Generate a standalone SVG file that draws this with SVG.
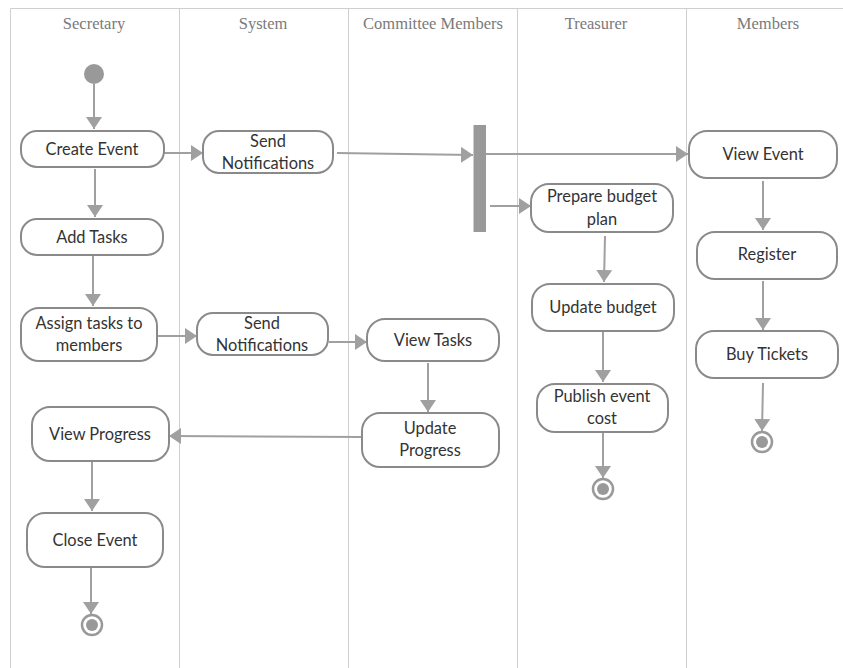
<svg xmlns="http://www.w3.org/2000/svg" width="843" height="668" viewBox="0 0 843 668">
<style>
.lane{stroke:#cfcfcf;stroke-width:1;fill:none}
.lt{font-family:"Liberation Serif",serif;font-size:16.5px;fill:#7a7a7a;text-anchor:middle}
.n{fill:#fff;stroke:#8a8a8a;stroke-width:2}
.t{font-family:Lato,"Liberation Sans",sans-serif;font-size:16.4px;fill:#333;text-anchor:middle}
.c{stroke:#a0a0a0;stroke-width:2;fill:none;marker-end:url(#ah)}
.dot{fill:#999}
.ring{fill:#fff;stroke:#999;stroke-width:2.5}
</style>
<defs>
<marker id="ah" markerUnits="userSpaceOnUse" markerWidth="14" markerHeight="18" refX="12" refY="8" orient="auto">
<path d="M0,0 L12,8 L0,16 Z" fill="#a0a0a0"/>
</marker>
</defs>
<rect width="843" height="668" fill="#fff"/>
<g id="lanes">
<line class="lane" x1="10.5" y1="8.5" x2="843" y2="8.5"/>
<line class="lane" x1="10.5" y1="8.5" x2="10.5" y2="668"/>
<line class="lane" x1="179.5" y1="8.5" x2="179.5" y2="668"/>
<line class="lane" x1="348.5" y1="8.5" x2="348.5" y2="668"/>
<line class="lane" x1="517.5" y1="8.5" x2="517.5" y2="668"/>
<line class="lane" x1="686.5" y1="8.5" x2="686.5" y2="668"/>
<text class="lt" x="94" y="29">Secretary</text>
<text class="lt" x="263" y="29">System</text>
<text class="lt" x="433" y="29">Committee Members</text>
<text class="lt" x="596" y="29">Treasurer</text>
<text class="lt" x="768" y="29">Members</text>
</g>
<g id="connectors">
<line class="c" x1="94" y1="84" x2="94" y2="129"/>
<line class="c" x1="164" y1="153" x2="203" y2="153"/>
<line class="c" x1="95" y1="169" x2="95" y2="217"/>
<line class="c" x1="337" y1="153" x2="473" y2="155"/>
<line class="c" x1="486" y1="154" x2="688" y2="154"/>
<line class="c" x1="490" y1="206" x2="531" y2="206"/>
<line class="c" x1="93" y1="256" x2="93" y2="306"/>
<line class="c" x1="157" y1="336" x2="197" y2="336"/>
<line class="c" x1="329" y1="342" x2="367" y2="342"/>
<line class="c" x1="428" y1="363" x2="428" y2="412"/>
<line class="c" x1="362" y1="437" x2="169" y2="436"/>
<line class="c" x1="92" y1="462" x2="92" y2="511"/>
<line class="c" x1="91" y1="568" x2="91" y2="614"/>
<line class="c" x1="763" y1="181" x2="763" y2="230"/>
<line class="c" x1="763" y1="281" x2="763" y2="330"/>
<line class="c" x1="763" y1="383" x2="762" y2="431"/>
<line class="c" x1="605" y1="236" x2="604" y2="282"/>
<line class="c" x1="603" y1="331" x2="603" y2="382"/>
<line class="c" x1="603" y1="433" x2="603" y2="478"/>
</g>
<g id="start"><circle class="dot" cx="94" cy="74" r="10"/></g>
<g id="fork"><rect x="473.5" y="125" width="12.5" height="107" fill="#999"/></g>
<g id="create-event"><rect class="n" x="21" y="131" width="143" height="36" rx="16"/><text class="t" x="92" y="155">Create Event</text></g>
<g id="send-notifications-1"><rect class="n" x="203" y="131" width="130" height="42" rx="16"/><text class="t" x="268" y="147">Send</text><text class="t" x="268" y="169">Notifications</text></g>
<g id="add-tasks"><rect class="n" x="21" y="219" width="142" height="36" rx="16"/><text class="t" x="92" y="243">Add Tasks</text></g>
<g id="assign-tasks"><rect class="n" x="21" y="308" width="136" height="53" rx="18"/><text class="t" x="89" y="329">Assign tasks to</text><text class="t" x="89" y="351">members</text></g>
<g id="send-notifications-2"><rect class="n" x="197" y="313" width="131" height="42" rx="16"/><text class="t" x="262" y="329">Send</text><text class="t" x="262" y="351">Notifications</text></g>
<g id="view-tasks"><rect class="n" x="367" y="319" width="132" height="42" rx="18"/><text class="t" x="433" y="346">View Tasks</text></g>
<g id="view-progress"><rect class="n" x="32" y="407" width="137" height="54" rx="18"/><text class="t" x="100" y="440">View Progress</text></g>
<g id="update-progress"><rect class="n" x="362" y="413" width="137" height="54" rx="18"/><text class="t" x="430" y="434">Update</text><text class="t" x="430" y="456">Progress</text></g>
<g id="close-event"><rect class="n" x="27" y="513" width="136" height="54" rx="18"/><text class="t" x="95" y="546">Close Event</text></g>
<g id="end-secretary"><circle class="ring" cx="92" cy="625" r="10"/><circle class="dot" cx="92" cy="625" r="6"/></g>
<g id="view-event"><rect class="n" x="689" y="131" width="148" height="47" rx="18"/><text class="t" x="763" y="160">View Event</text></g>
<g id="prepare-budget"><rect class="n" x="531" y="184" width="142" height="48" rx="18"/><text class="t" x="602" y="202">Prepare budget</text><text class="t" x="602" y="225">plan</text></g>
<g id="register"><rect class="n" x="697" y="232" width="140" height="47" rx="18"/><text class="t" x="767" y="260">Register</text></g>
<g id="update-budget"><rect class="n" x="532" y="284" width="142" height="47" rx="18"/><text class="t" x="603" y="313">Update budget</text></g>
<g id="buy-tickets"><rect class="n" x="696" y="331" width="142" height="47" rx="18"/><text class="t" x="767" y="360">Buy Tickets</text></g>
<g id="publish-cost"><rect class="n" x="537" y="384" width="131" height="48" rx="18"/><text class="t" x="602" y="402">Publish event</text><text class="t" x="602" y="424">cost</text></g>
<g id="end-treasurer"><circle class="ring" cx="603" cy="489" r="10"/><circle class="dot" cx="603" cy="489" r="6"/></g>
<g id="end-members"><circle class="ring" cx="762" cy="442" r="10"/><circle class="dot" cx="762" cy="442" r="6"/></g>
</svg>
